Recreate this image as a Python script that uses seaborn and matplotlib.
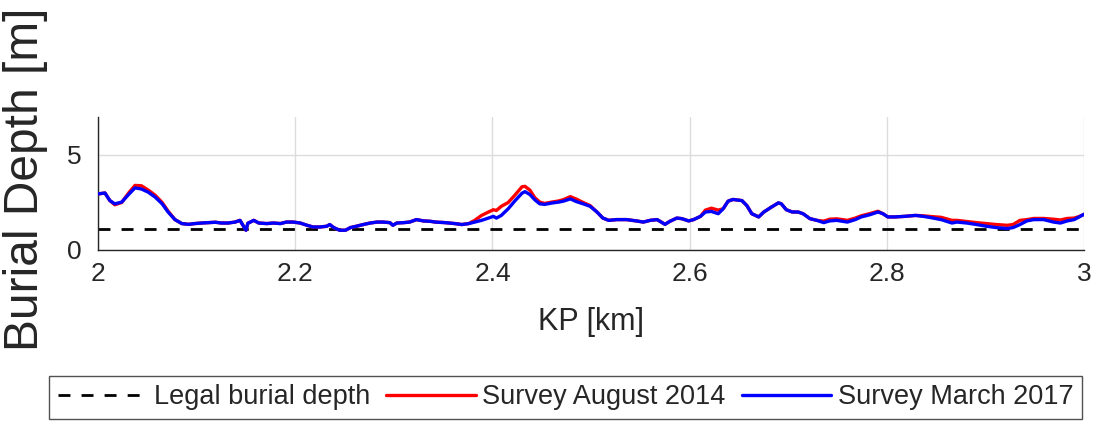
import matplotlib
matplotlib.use("Agg")
import matplotlib.pyplot as plt
import seaborn as sns

sns.set_theme(style="whitegrid")
plt.rcParams['font.family'] = ['Liberation Sans', 'DejaVu Sans']

# --- data ---
kp = [2.000, 2.007, 2.012, 2.017, 2.024, 2.031, 2.0375, 2.044, 2.051, 2.058,
      2.065, 2.071, 2.078, 2.085, 2.092, 2.098, 2.105, 2.112, 2.119, 2.125,
      2.132, 2.139, 2.144, 2.147, 2.150, 2.152, 2.158, 2.163, 2.171, 2.178,
      2.185, 2.191, 2.198, 2.205, 2.212, 2.218, 2.225, 2.232, 2.235, 2.239,
      2.245, 2.251, 2.256, 2.262, 2.269, 2.276, 2.283, 2.289, 2.296, 2.299,
      2.303, 2.310, 2.316, 2.323, 2.330, 2.337, 2.342, 2.352, 2.362, 2.369,
      2.376, 2.382, 2.389, 2.396, 2.401, 2.404, 2.409, 2.416, 2.423, 2.430,
      2.433, 2.438, 2.443, 2.448, 2.453, 2.460, 2.467, 2.472, 2.479, 2.485,
      2.492, 2.499, 2.506, 2.512, 2.518, 2.526, 2.536, 2.546, 2.553, 2.560,
      2.567, 2.572, 2.575, 2.580, 2.587, 2.592, 2.599, 2.604, 2.611, 2.616,
      2.622, 2.629, 2.634, 2.639, 2.644, 2.653, 2.658, 2.663, 2.670, 2.675,
      2.683, 2.690, 2.693, 2.698, 2.704, 2.710, 2.715, 2.722, 2.729, 2.736,
      2.742, 2.749, 2.755, 2.760, 2.768, 2.774, 2.783, 2.791, 2.796, 2.801,
      2.808, 2.818, 2.829, 2.837, 2.845, 2.855, 2.866, 2.871, 2.881, 2.891,
      2.901, 2.911, 2.922, 2.928, 2.935, 2.942, 2.949, 2.959, 2.969, 2.976,
      2.983, 2.990, 2.995, 3.000]

depth_mar2017 = [2.95, 3.00, 2.60, 2.43, 2.52, 2.92, 3.27, 3.21, 3.04, 2.78,
                 2.43, 2.00, 1.60, 1.39, 1.35, 1.39, 1.42, 1.44, 1.46, 1.42,
                 1.42, 1.47, 1.56, 1.30, 1.04, 1.41, 1.56, 1.42, 1.39, 1.42,
                 1.39, 1.47, 1.47, 1.42, 1.30, 1.21, 1.21, 1.25, 1.34, 1.18,
                 1.04, 1.04, 1.18, 1.25, 1.34, 1.42, 1.47, 1.47, 1.44, 1.30,
                 1.42, 1.44, 1.47, 1.60, 1.53, 1.51, 1.47, 1.44, 1.39, 1.34,
                 1.39, 1.47, 1.56, 1.68, 1.77, 1.68, 1.82, 2.17, 2.60, 2.99,
                 3.07, 2.92, 2.64, 2.43, 2.40, 2.47, 2.52, 2.57, 2.69, 2.55,
                 2.43, 2.30, 2.00, 1.68, 1.56, 1.60, 1.60, 1.53, 1.47, 1.56,
                 1.60, 1.44, 1.35, 1.51, 1.68, 1.65, 1.53, 1.60, 1.77, 2.00,
                 2.03, 1.91, 2.17, 2.57, 2.66, 2.60, 2.34, 1.91, 1.74, 1.99,
                 2.26, 2.48, 2.43, 2.12, 2.00, 2.00, 1.91, 1.65, 1.56, 1.44,
                 1.53, 1.56, 1.51, 1.47, 1.60, 1.74, 1.86, 2.00, 1.91, 1.74,
                 1.74, 1.77, 1.82, 1.77, 1.70, 1.60, 1.42, 1.47, 1.42, 1.34,
                 1.25, 1.18, 1.13, 1.18, 1.34, 1.53, 1.60, 1.60, 1.47, 1.42,
                 1.53, 1.60, 1.74, 1.88]

depth_aug2014 = [2.95, 3.00, 2.60, 2.38, 2.50, 3.00, 3.40, 3.38, 3.15, 2.88,
                 2.50, 2.05, 1.60, 1.39, 1.35, 1.39, 1.42, 1.44, 1.46, 1.42,
                 1.42, 1.47, 1.56, 1.30, 1.04, 1.41, 1.56, 1.42, 1.39, 1.42,
                 1.39, 1.47, 1.47, 1.42, 1.30, 1.21, 1.21, 1.25, 1.34, 1.18,
                 1.04, 1.04, 1.18, 1.25, 1.34, 1.42, 1.47, 1.47, 1.44, 1.30,
                 1.42, 1.44, 1.47, 1.60, 1.53, 1.51, 1.47, 1.44, 1.39, 1.34,
                 1.39, 1.56, 1.82, 2.00, 2.12, 2.08, 2.30, 2.50, 2.90, 3.33,
                 3.35, 3.15, 2.75, 2.52, 2.45, 2.52, 2.58, 2.65, 2.81, 2.68,
                 2.50, 2.34, 2.00, 1.68, 1.56, 1.60, 1.60, 1.53, 1.47, 1.56,
                 1.60, 1.44, 1.35, 1.51, 1.68, 1.65, 1.53, 1.60, 1.77, 2.10,
                 2.20, 2.10, 2.17, 2.57, 2.66, 2.60, 2.34, 1.91, 1.74, 1.99,
                 2.26, 2.48, 2.43, 2.12, 2.00, 2.00, 1.91, 1.65, 1.56, 1.52,
                 1.62, 1.64, 1.60, 1.56, 1.68, 1.80, 1.92, 2.04, 1.91, 1.74,
                 1.74, 1.77, 1.82, 1.80, 1.76, 1.72, 1.56, 1.56, 1.50, 1.44,
                 1.39, 1.34, 1.30, 1.34, 1.56, 1.60, 1.66, 1.66, 1.62, 1.58,
                 1.66, 1.68, 1.76, 1.88]

legal_depth = 1.1
x_ticks = [2, 2.2, 2.4, 2.6, 2.8, 3]
x_tick_labels = ['2', '2.2', '2.4', '2.6', '2.8', '3']
y_ticks = [0, 5]

# --- plot ---
fig = plt.figure(figsize=(10.99, 4.23), dpi=100)
ax = fig.add_axes([0.0892, 0.409, 0.8972, 0.3144])

ax.axhline(legal_depth, color='black', lw=2, dashes=(4.3, 4.0),
           label='Legal burial depth', zorder=2)
sns.lineplot(x=kp, y=depth_aug2014, color='#ff0000', lw=2.4,
             label='Survey August 2014', ax=ax, zorder=3)
sns.lineplot(x=kp, y=depth_mar2017, color='#0000ff', lw=2.4,
             label='Survey March 2017', ax=ax, zorder=4)

ax.set_xlim(2, 3)
ax.set_ylim(0, 7)
ax.set_xticks(x_ticks)
ax.set_xticklabels(x_tick_labels)
ax.set_yticks(y_ticks)

ax.set_facecolor('white')
ax.grid(True, color='#dcdcdc', lw=1)
for side in ['top', 'right']:
    ax.spines[side].set_visible(False)
for side in ['left', 'bottom']:
    ax.spines[side].set_color('#262626')
    ax.spines[side].set_linewidth(1)

ax.tick_params(axis='both', direction='in', length=8, width=1,
               color='#262626', labelcolor='#262626', labelsize=19)
ax.tick_params(axis='x', pad=9)
ax.tick_params(axis='y', pad=12)

ax.set_xlabel('KP [km]', fontsize=22, color='#262626', va='top')
ax.xaxis.set_label_coords(0.5, -0.43)
ax.set_ylabel('Burial Depth [m]', fontsize=34.5, color='#262626')
ax.yaxis.set_label_coords(-0.051, 0.53)

ax.get_legend().remove()
handles, labels = ax.get_legend_handles_labels()
leg = fig.legend(handles, labels, loc='center', bbox_to_anchor=(0.5146, 0.0603),
                 ncol=3, fontsize=19.5, frameon=True, fancybox=False,
                 handlelength=3.3, handletextpad=0.25, columnspacing=0.6,
                 borderpad=0.3)
leg.get_frame().set_edgecolor('#262626')
leg.get_frame().set_linewidth(1)
for t in leg.get_texts():
    t.set_color('#262626')

plt.savefig('out.png', dpi=100)
